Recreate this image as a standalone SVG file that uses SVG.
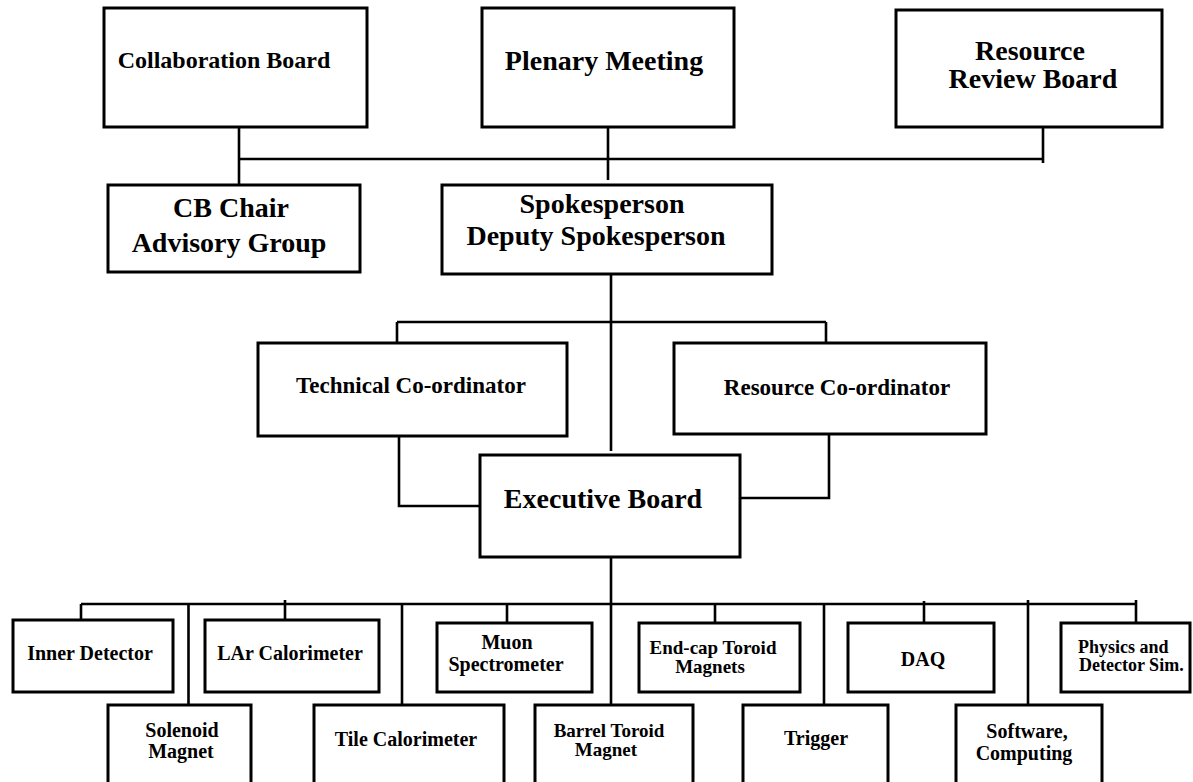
<svg xmlns="http://www.w3.org/2000/svg" width="1193" height="782" viewBox="0 0 1193 782">
<style>
.box{fill:#fff;stroke:#000;stroke-width:3}
.ln{fill:none;stroke:#000;stroke-width:2.6}
text{font-family:"Liberation Serif","Times New Roman",serif;font-weight:bold;fill:#000;text-anchor:middle}
.s28{font-size:28px}
.s24{font-size:24px}
.s23{font-size:23px}
.s20{font-size:20px}
.s19{font-size:19px}
.s18{font-size:18px}
</style>
<rect width="1193" height="782" fill="#fff"/>
<g id="connectors">
<path class="ln" d="M239 127V184M239 159H1043M1043 123V163M608 127V180"/>
<path class="ln" d="M611 274V451M397 322H826M397 322V343M826 322V343M399 436V506H480M829 434V498H740"/>
<path class="ln" d="M611 557V705M81 604H1136M81 604V624M188.5 604V705M285 600V620M402 604V705M507 604V623M715 604V623M824 604V705M924 601V623M1028 600V705M1136 600V623"/>
</g>
<g id="collaboration-board"><rect class="box" x="104" y="8" width="263" height="119"/><text class="s24" x="224" y="68">Collaboration Board</text></g>
<g id="plenary-meeting"><rect class="box" x="482" y="8" width="252" height="119"/><text class="s28" x="604" y="70">Plenary Meeting</text></g>
<g id="resource-review-board"><rect class="box" x="896" y="10" width="266" height="117"/><text class="s28" x="1030" y="60">Resource</text><text class="s28" x="1033" y="88">Review Board</text></g>
<g id="cb-chair"><rect class="box" x="108" y="185" width="252" height="87"/><text class="s28" x="231" y="217">CB Chair</text><text class="s28" x="229" y="252">Advisory Group</text></g>
<g id="spokesperson"><rect class="box" x="442" y="185" width="330" height="89"/><text class="s28" x="602" y="213">Spokesperson</text><text class="s28" x="596" y="245">Deputy Spokesperson</text></g>
<g id="technical-coordinator"><rect class="box" x="258" y="343" width="309" height="93"/><text class="s23" x="411" y="393">Technical Co-ordinator</text></g>
<g id="resource-coordinator"><rect class="box" x="674" y="343" width="312" height="91"/><text class="s23" x="837" y="395">Resource Co-ordinator</text></g>
<g id="executive-board"><rect class="box" x="480" y="455" width="260" height="102"/><text class="s28" x="603" y="508">Executive Board</text></g>
<g id="inner-detector"><rect class="box" x="13" y="620" width="160" height="72"/><text class="s20" x="90" y="660">Inner Detector</text></g>
<g id="lar-calorimeter"><rect class="box" x="205" y="620" width="174" height="72"/><text class="s20" x="290" y="660">LAr Calorimeter</text></g>
<g id="muon-spectrometer"><rect class="box" x="437" y="623" width="155" height="69"/><text class="s20" x="507" y="649">Muon</text><text class="s20" x="506" y="671">Spectrometer</text></g>
<g id="endcap-toroid"><rect class="box" x="639" y="623" width="161" height="69"/><text class="s19" x="713" y="654">End-cap Toroid</text><text class="s19" x="710" y="673">Magnets</text></g>
<g id="daq"><rect class="box" x="848" y="623" width="146" height="69"/><text class="s20" x="923" y="666">DAQ</text></g>
<g id="physics-sim"><rect class="box" x="1061" y="623" width="129" height="69"/><text class="s18" x="1078" y="653" style="text-anchor:start">Physics and</text><text class="s18" x="1079" y="671" style="text-anchor:start">Detector Sim.</text></g>
<g id="solenoid-magnet"><rect class="box" x="108" y="705" width="143" height="90"/><text class="s20" x="182" y="737">Solenoid</text><text class="s20" x="181" y="758">Magnet</text></g>
<g id="tile-calorimeter"><rect class="box" x="314" y="705" width="190" height="90"/><text class="s20" x="406" y="746">Tile Calorimeter</text></g>
<g id="barrel-toroid"><rect class="box" x="535" y="705" width="158" height="90"/><text class="s19" x="609" y="737">Barrel Toroid</text><text class="s19" x="606" y="756">Magnet</text></g>
<g id="trigger"><rect class="box" x="743" y="705" width="145" height="90"/><text class="s20" x="816" y="745">Trigger</text></g>
<g id="software-computing"><rect class="box" x="956" y="705" width="146" height="90"/><text class="s20" x="1027" y="738">Software,</text><text class="s20" x="1024" y="760">Computing</text></g>
</svg>
